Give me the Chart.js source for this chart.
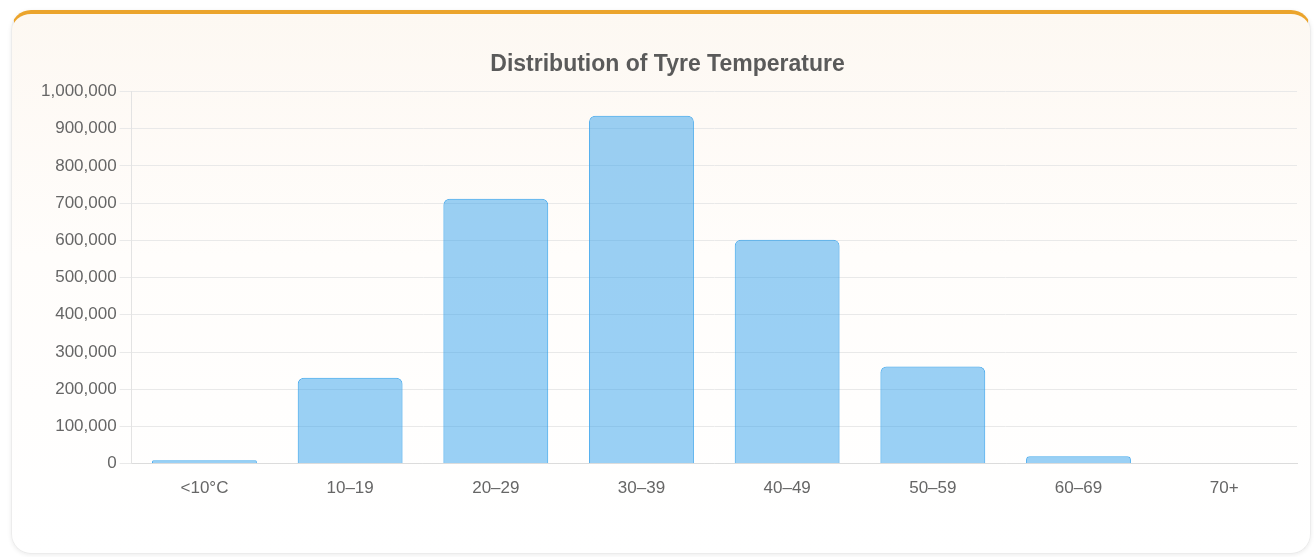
<!DOCTYPE html>
<html>
<head>
<meta charset="utf-8">
<script src="https://cdn.jsdelivr.net/npm/chart.js@4"></script>
<style>
  html, body { margin: 0; padding: 0; background: #ffffff; width: 1314px; height: 557px; overflow: hidden; }
  .card {
    position: absolute; left: 11px; top: 10px; width: 1300px; height: 544px;
    box-sizing: border-box;
    border-radius: 20px;
    border: 1px solid #ececec;
    border-top: 4px solid #eba42c;
    background: linear-gradient(to bottom, #fdf8f2 0%, #fffdfb 45%, #ffffff 100%);
    box-shadow: 0 1px 4px rgba(0,0,0,0.08);
  }
  .wrap { position: absolute; left: 0; top: 0; width: 1298px; height: 539px; }
</style>
</head>
<body>
<div class="card">
  <div class="wrap"><canvas id="tyreChart"></canvas></div>
</div>
<script>
// Temperature bands and the number of readings in each
const categories = ['<10°C', '10–19', '20–29', '30–39', '40–49', '50–59', '60–69', '70+'];
const readings = [9000, 231000, 712000, 935000, 602000, 261000, 20000, 0];
const chartTitle = 'Distribution of Tyre Temperature';

const fontFamily = '"Liberation Sans", Arial, Helvetica, sans-serif';

new Chart(document.getElementById('tyreChart'), {
  type: 'bar',
  data: {
    labels: categories,
    datasets: [{
      label: 'Readings',
      data: readings,
      backgroundColor: 'rgba(54, 162, 235, 0.5)',
      borderColor: 'rgba(54, 162, 235, 0.9)',
      borderWidth: 1,
      borderRadius: 6,
      borderSkipped: 'bottom'
    }]
  },
  options: {
    responsive: true,
    maintainAspectRatio: false,
    animation: false,
    layout: { padding: { top: 27, left: 26, right: 13, bottom: 47 } },
    plugins: {
      legend: { display: false },
      tooltip: { enabled: false },
      title: {
        display: true,
        text: chartTitle,
        color: '#5a5a5a',
        font: { family: fontFamily, size: 23, weight: 'bold' },
        padding: { top: 10, bottom: 13 }
      }
    },
    scales: {
      x: {
        grid: { display: false },
        border: { color: '#dcdcdc' },
        ticks: { color: '#666', font: { family: fontFamily, size: 17 }, padding: 7 }
      },
      y: {
        min: 0,
        max: 1000000,
        grid: { color: '#e9e9e9', tickLength: 12 },
        border: { color: '#e3e3e3' },
        ticks: {
          stepSize: 100000,
          color: '#666',
          font: { family: fontFamily, size: 17 },
          padding: 3,
          callback: v => v.toLocaleString('en-US')
        }
      }
    }
  }
});
</script>
</body>
</html>
